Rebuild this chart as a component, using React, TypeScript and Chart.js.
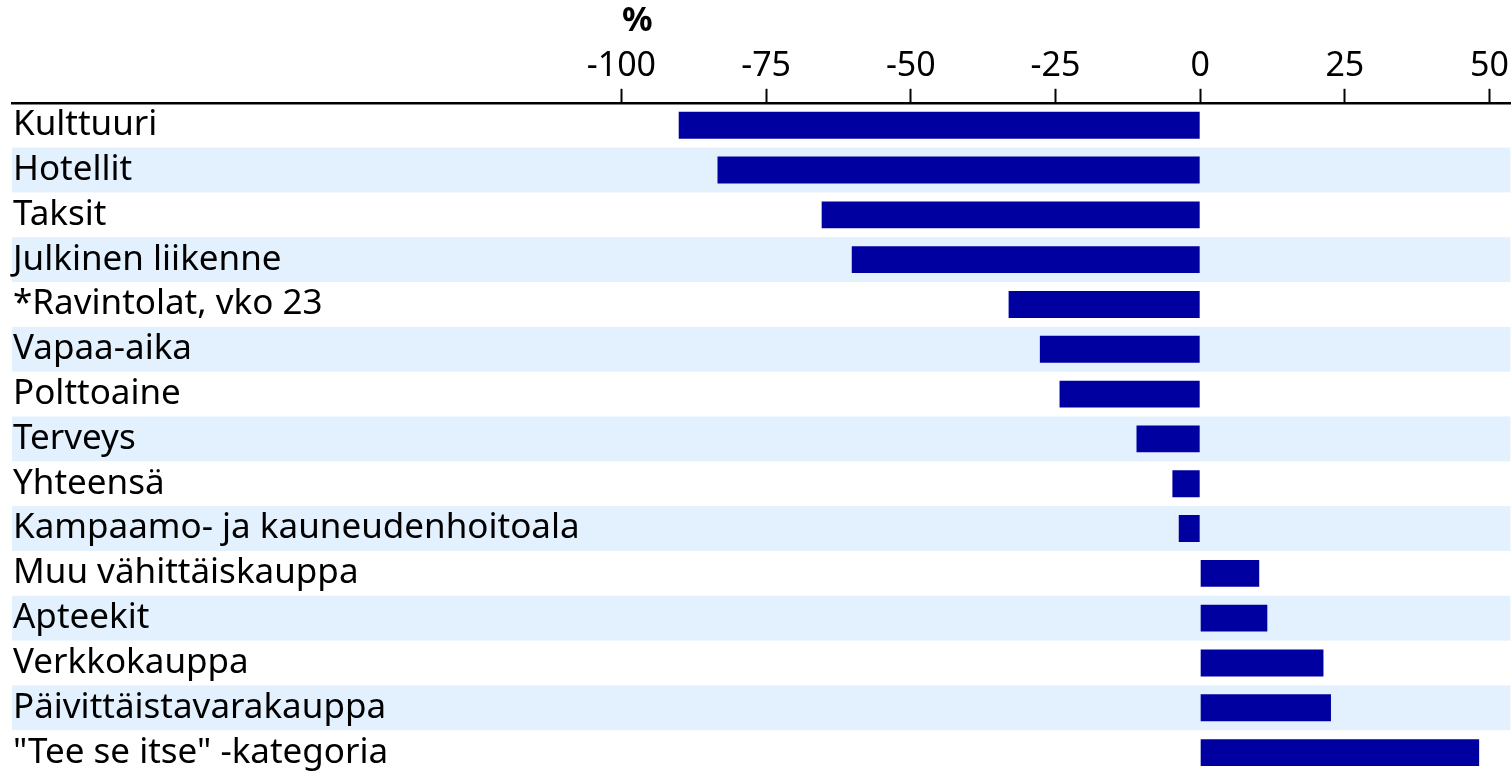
import React, { useEffect, useRef } from "react";
import { Chart, registerables } from "chart.js";

Chart.register(...registerables);

const categories = [
  "Kulttuuri",
  "Hotellit",
  "Taksit",
  "Julkinen liikenne",
  "*Ravintolat, vko 23",
  "Vapaa-aika",
  "Polttoaine",
  "Terveys",
  "Yhteensä",
  "Kampaamo- ja kauneudenhoitoala",
  "Muu vähittäiskauppa",
  "Apteekit",
  "Verkkokauppa",
  "Päivittäistavarakauppa",
  '"Tee se itse" -kategoria',
];

const changes = [
  -90.1, -83.4, -65.4, -60.2, -33.1, -27.7, -24.3, -11.0, -4.8, -3.7, 10.2, 11.6, 21.3, 22.6, 48.2,
];

const tickValues = [-100, -75, -50, -25, 0, 25, 50];
const unitLabel = "%";

const FONT = "'Noto Sans', 'Open Sans', sans-serif";
const BAR_COLOR = "#0000a0";
const STRIPE_COLOR = "#e3f0fd";

const stripePlugin = {
  id: "stripes",
  beforeDraw(chart: any) {
    const { ctx, chartArea, scales } = chart;
    const y = scales.y;
    const n = categories.length;
    const h = (chartArea.bottom - chartArea.top) / n;
    ctx.save();
    ctx.fillStyle = STRIPE_COLOR;
    for (let i = 1; i < n; i += 2) {
      const c = y.getPixelForValue(i);
      ctx.fillRect(chartArea.left, c - h / 2, chartArea.right - chartArea.left, h);
    }
    ctx.restore();
  },
};

const unitPlugin = {
  id: "unitLabel",
  afterDraw(chart: any) {
    const { ctx, scales } = chart;
    const x = scales.x.getPixelForValue(tickValues[0]) + 16;
    ctx.save();
    ctx.font = `bold 34px ${FONT}`;
    ctx.fillStyle = "#000";
    ctx.textAlign = "center";
    ctx.textBaseline = "middle";
    ctx.fillText(unitLabel, x, 21);
    ctx.restore();
  },
};

export default function App() {
  const ref = useRef<HTMLCanvasElement | null>(null);

  useEffect(() => {
    if (!ref.current) return;
    const chart = new Chart(ref.current, {
      type: "bar",
      data: {
        labels: categories,
        datasets: [
          {
            data: changes,
            backgroundColor: BAR_COLOR,
            borderWidth: 0,
            barPercentage: 0.6,
            categoryPercentage: 1,
          },
        ],
      },
      options: {
        indexAxis: "y",
        animation: false,
        responsive: true,
        maintainAspectRatio: false,
        layout: { padding: { left: 12, right: 0, top: 44, bottom: 0 } },
        plugins: {
          legend: { display: false },
          tooltip: { enabled: false },
          title: { display: false },
        },
        scales: {
          x: {
            type: "linear",
            position: "top",
            min: -205.3,
            max: 53.6,
            afterBuildTicks: (scale: any) => {
              scale.ticks = tickValues.map((v) => ({ value: v }));
            },
            grid: {
              display: true,
              drawOnChartArea: false,
              drawTicks: true,
              tickLength: 14,
              tickWidth: 2,
              tickColor: "#000",
            },
            border: { display: true, color: "#000", width: 2.5 },
            ticks: {
              font: { family: FONT, size: 34 },
              color: "#000",
              padding: 2,
              maxRotation: 0,
              autoSkip: false,
              callback: (v: any) => String(v),
            },
          },
          y: {
            type: "category",
            position: "left",
            grid: { display: false, drawTicks: false },
            border: { display: false },
            afterFit: (scale: any) => {
              scale.width = 0;
              scale.paddingTop = 0;
              scale.paddingBottom = 0;
            },
            ticks: {
              mirror: true,
              padding: 1,
              font: { family: FONT, size: 35 },
              color: "#000",
              autoSkip: false,
            },
          },
        },
      },
      plugins: [stripePlugin, unitPlugin],
    });
    return () => chart.destroy();
  }, []);

  return (
    <div style={{ position: "absolute", left: 0, top: 0, width: 1511, height: 775 }}>
      <canvas ref={ref} />
    </div>
  );
}
